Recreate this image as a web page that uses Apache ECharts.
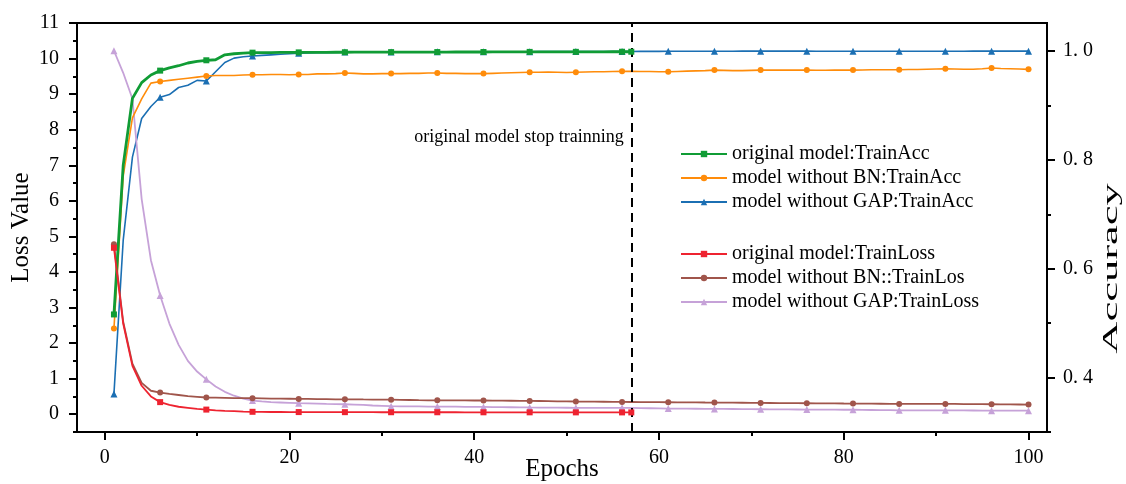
<!DOCTYPE html>
<html><head><meta charset="utf-8">
<script src="https://cdn.jsdelivr.net/npm/echarts@6/dist/echarts.min.js"></script>
<style>html,body{margin:0;padding:0;background:#fff}#c{width:1126px;height:484px}</style>
</head><body><div id="c"></div><script>
// ---------- data ----------
const epochs = Array.from({length: 100}, (_, i) => i + 1);
const stopEpoch = 57;

const origTrainAcc = [
  0.516,0.790,0.913,0.942,0.956,0.964,0.969,0.973,0.978,0.981,
  0.983,0.984,0.993,0.995,0.996,0.997,0.997,0.997,0.9975,0.9975,
  0.9975,0.9976,0.9977,0.9977,0.9978,0.9978,0.9979,0.9979,0.998,0.998,
  0.998,0.998,0.998,0.998,0.9981,0.9981,0.9981,0.9982,0.9982,0.9982,
  0.9982,0.9983,0.9983,0.9983,0.9984,0.9984,0.9984,0.9985,0.9985,0.9985,
  0.9985,0.9986,0.9986,0.9986,0.9987,0.9987,0.9987
];
const noBNTrainAcc = [
  0.490,0.770,0.877,0.912,0.941,0.944,0.946,0.948,0.950,0.952,
  0.954,0.955,0.955,0.955,0.956,0.9565,0.9565,0.957,0.957,0.9565,
  0.957,0.957,0.958,0.958,0.9585,0.9595,0.959,0.958,0.958,0.9585,
  0.9585,0.9585,0.959,0.959,0.9595,0.9595,0.959,0.959,0.9585,0.9585,
  0.9585,0.959,0.9595,0.960,0.9605,0.961,0.961,0.9615,0.961,0.9605,
  0.961,0.9615,0.962,0.962,0.9625,0.9627,0.9627,0.9625,0.9625,0.962,
  0.962,0.9625,0.963,0.9635,0.964,0.965,0.9645,0.964,0.964,0.9645,
  0.965,0.965,0.965,0.965,0.965,0.965,0.9648,0.9648,0.965,0.965,
  0.965,0.9652,0.9655,0.9655,0.9655,0.9655,0.966,0.966,0.9665,0.967,
  0.9675,0.967,0.9665,0.9665,0.9675,0.9687,0.968,0.9675,0.967,0.9663
];
const noGAPTrainAcc = [
  0.370,0.652,0.805,0.876,0.898,0.915,0.920,0.933,0.937,0.946,
  0.945,0.962,0.979,0.987,0.9895,0.991,0.992,0.993,0.994,0.995,
  0.996,0.9965,0.997,0.997,0.9975,0.998,0.998,0.998,0.9982,0.9982,
  0.9983,0.9983,0.9984,0.9984,0.9985,0.9985,0.9985,0.9986,0.9986,0.9986,
  0.9987,0.9987,0.9987,0.9988,0.9988,0.9988,0.9989,0.9989,0.9989,0.999,
  0.999,0.999,0.999,0.9991,0.9991,0.9992,0.9992,0.9993,0.9993,0.9994,
  0.9995,0.9995,0.9995,0.9996,0.9996,0.9997,0.9997,0.9997,0.9998,0.9998,
  0.9998,0.9998,0.9998,0.9998,0.9998,0.9998,0.9997,0.9997,0.9997,0.9997,
  0.9996,0.9996,0.9996,0.9996,0.9997,0.9997,0.9997,0.9997,0.9997,0.9997,
  0.9997,0.9997,0.9997,0.9998,0.9998,0.9998,0.9998,0.9998,0.9998,0.9998
];
const origTrainLoss = [
  4.68,2.55,1.36,0.80,0.50,0.34,0.26,0.21,0.18,0.15,
  0.13,0.11,0.095,0.085,0.075,0.068,0.065,0.063,0.062,0.061,
  0.060,0.059,0.059,0.058,0.058,0.058,0.057,0.057,0.057,0.056,
  0.056,0.056,0.056,0.055,0.055,0.055,0.055,0.055,0.054,0.054,
  0.054,0.054,0.054,0.053,0.053,0.053,0.053,0.053,0.052,0.052,
  0.052,0.052,0.052,0.051,0.051,0.051,0.051
];
const noBNTrainLoss = [
  4.78,2.60,1.42,0.88,0.66,0.61,0.57,0.54,0.51,0.49,
  0.47,0.465,0.46,0.455,0.45,0.45,0.445,0.44,0.44,0.435,
  0.43,0.43,0.425,0.425,0.42,0.42,0.418,0.415,0.413,0.41,
  0.41,0.405,0.40,0.395,0.392,0.39,0.389,0.388,0.387,0.386,
  0.385,0.383,0.381,0.379,0.377,0.375,0.371,0.367,0.363,0.36,
  0.357,0.355,0.353,0.351,0.348,0.346,0.344,0.342,0.340,0.338,
  0.337,0.335,0.333,0.331,0.329,0.328,0.326,0.324,0.322,0.320,
  0.318,0.316,0.314,0.312,0.310,0.309,0.307,0.305,0.303,0.301,
  0.300,0.298,0.296,0.294,0.292,0.290,0.290,0.290,0.290,0.290,
  0.290,0.288,0.286,0.284,0.282,0.280,0.278,0.276,0.273,0.270
];
const noGAPTrainLoss = [
  10.22,9.60,8.87,6.05,4.33,3.34,2.55,1.95,1.50,1.20,
  0.98,0.78,0.63,0.52,0.44,0.385,0.36,0.34,0.33,0.32,
  0.31,0.305,0.30,0.29,0.285,0.28,0.27,0.26,0.245,0.235,
  0.225,0.223,0.22,0.218,0.216,0.215,0.213,0.211,0.209,0.207,
  0.205,0.202,0.199,0.196,0.193,0.19,0.188,0.186,0.184,0.182,
  0.18,0.18,0.18,0.18,0.18,0.18,0.176,0.172,0.168,0.164,
  0.16,0.158,0.156,0.154,0.152,0.15,0.148,0.146,0.144,0.142,
  0.14,0.138,0.136,0.134,0.132,0.13,0.129,0.128,0.127,0.126,
  0.125,0.122,0.119,0.116,0.113,0.11,0.11,0.11,0.11,0.11,
  0.11,0.108,0.106,0.104,0.102,0.10,0.10,0.10,0.10,0.10
];

const xTickLabels = [0, 20, 40, 60, 80, 100];
const xMinorTicks = [10, 30, 50, 70, 90];
const lossTickLabels = [0,1,2,3,4,5,6,7,8,9,10,11];
const lossMinorTicks = [-0.5,0.5,1.5,2.5,3.5,4.5,5.5,6.5,7.5,8.5,9.5,10.5];
const accTickLabels = [0.4, 0.6, 0.8, 1.0];
const accMinorTicks = [0.3, 0.5, 0.7, 0.9];

const names = [
  'original model:TrainAcc', 'model without BN:TrainAcc', 'model without GAP:TrainAcc',
  'original model:TrainLoss', 'model without BN::TrainLos', 'model without GAP:TrainLoss'
];
const stopText = 'original model stop trainning';
const accTitle = 'Accuracy';

// ---------- chart ----------
const FONT = '"Liberation Serif", "Times New Roman", serif';
const pairs = arr => arr.map((v, i) => [epochs[i], v]);

function mkSeries(name, data, yIdx, color, symbol, size, width, z) {
  const last = data.length;
  return {
    name, type: 'line', xAxisIndex: 0, yAxisIndex: yIdx,
    data: pairs(data),
    showSymbol: true, showAllSymbol: true,
    symbol,
    symbolSize: (val) => ((val[0] - 1) % 5 === 0 || val[0] === last) ? size : 0,
    lineStyle: { color, width },
    itemStyle: { color },
    z, animation: false,
    emphasis: { disabled: true }
  };
}

const series = [
  mkSeries(names[2], noGAPTrainAcc, 1, '#1b6fb3', 'triangle', 7, 1.6, 3),
  mkSeries(names[1], noBNTrainAcc, 1, '#ff8c0a', 'circle', 6, 1.6, 4),
  mkSeries(names[0], origTrainAcc, 1, '#109c35', 'rect', 6, 2.8, 5),
  mkSeries(names[5], noGAPTrainLoss, 0, '#c6a2d8', 'triangle', 7, 1.8, 3),
  mkSeries(names[4], noBNTrainLoss, 0, '#a0554b', 'circle', 6, 1.8, 4),
  mkSeries(names[3], origTrainLoss, 0, '#ee2330', 'rect', 6, 1.8, 5)
];
series[5].markLine = {
  silent: true, symbol: ['none', 'none'], animation: false,
  lineStyle: { color: '#000', type: [9, 6], width: 2 },
  label: { show: false },
  data: [{ xAxis: stopEpoch }]
};
series[5].markPoint = {
  silent: true, animation: false,
  symbol: 'rect', symbolSize: 1, itemStyle: { color: 'rgba(0,0,0,0)' },
  label: { show: true, position: 'left', distance: 7, formatter: stopText,
           color: '#000', fontSize: 18, fontFamily: FONT },
  data: [{ coord: [stopEpoch, 7.8] }]
};

const tickStyle = { color: '#000', width: 2 };
const legendText = { fontSize: 20, fontFamily: FONT, color: '#000', lineHeight: 20 };

const option = {
  backgroundColor: '#fff',
  animation: false,
  grid: { left: 77, right: 79, top: 23, bottom: 52, show: true, borderColor: '#000', borderWidth: 2,
          backgroundColor: 'transparent', outerBoundsMode: 'none', containLabel: false },
  legend: [
    { data: names.slice(0, 3), orient: 'vertical', left: 675, top: 139, itemWidth: 46, itemHeight: 8, itemGap: 4, textStyle: legendText, selectedMode: false },
    { data: names.slice(3), orient: 'vertical', left: 675, top: 239, itemWidth: 46, itemHeight: 8, itemGap: 4, textStyle: legendText, selectedMode: false }
  ],
  graphic: [{
    type: 'text', x: 1111, y: 268.5, rotation: Math.PI / 2, scaleX: 2.12, silent: true,
    style: { text: accTitle, font: '21px ' + FONT, fill: '#000', textAlign: 'center', textVerticalAlign: 'middle' }
  }],
  xAxis: [
    { type: 'value', min: -3, max: 102, position: 'bottom',
      name: 'Epochs', nameLocation: 'middle', nameGap: 25, nameMoveOverlap: false,
      nameTextStyle: { fontSize: 25, fontFamily: FONT, color: '#000' },
      axisLine: { show: true, onZero: false, lineStyle: { color: '#000', width: 2 } },
      axisTick: { show: true, length: 8, lineStyle: tickStyle, customValues: xTickLabels },
      axisLabel: { fontSize: 20, fontFamily: FONT, color: '#000', margin: 16, customValues: xTickLabels },
      splitLine: { show: false } },
    { type: 'value', min: -3, max: 102, position: 'bottom', offset: 0,
      axisLine: { show: false, onZero: false },
      axisTick: { show: true, length: 4, lineStyle: tickStyle, customValues: xMinorTicks },
      axisLabel: { show: false }, splitLine: { show: false } }
  ],
  yAxis: [
    { type: 'value', min: -0.5, max: 11, position: 'left',
      name: 'Loss Value', nameLocation: 'middle', nameGap: 43, nameRotate: 90, nameMoveOverlap: false,
      nameTextStyle: { fontSize: 25, fontFamily: FONT, color: '#000' },
      axisLine: { show: true, onZero: false, lineStyle: { color: '#000', width: 2 } },
      axisTick: { show: true, length: 8, lineStyle: tickStyle, customValues: lossTickLabels },
      axisLabel: { fontSize: 20, fontFamily: FONT, color: '#000', margin: 18, customValues: lossTickLabels },
      splitLine: { show: false } },
    { type: 'value', min: 0.3, max: 1.0515, position: 'right',
      axisLine: { show: true, onZero: false, lineStyle: { color: '#000', width: 2 } },
      axisTick: { show: true, length: 8, lineStyle: tickStyle, customValues: accTickLabels },
      axisLabel: { fontSize: 20, fontFamily: FONT, color: '#000', margin: 16, customValues: accTickLabels,
                   formatter: v => v.toFixed(1).replace('.', '. ') },
      splitLine: { show: false } },
    { type: 'value', min: -0.5, max: 11, position: 'left', offset: 0,
      axisLine: { show: false, onZero: false },
      axisTick: { show: true, length: 4, lineStyle: tickStyle, customValues: lossMinorTicks },
      axisLabel: { show: false }, splitLine: { show: false } },
    { type: 'value', min: 0.3, max: 1.0515, position: 'right', offset: 0,
      axisLine: { show: false, onZero: false },
      axisTick: { show: true, length: 4, lineStyle: tickStyle, customValues: accMinorTicks },
      axisLabel: { show: false }, splitLine: { show: false } }
  ],
  series
};

const chart = echarts.init(document.getElementById('c'), null, { renderer: 'canvas' });
chart.setOption(option);
</script></body></html>
